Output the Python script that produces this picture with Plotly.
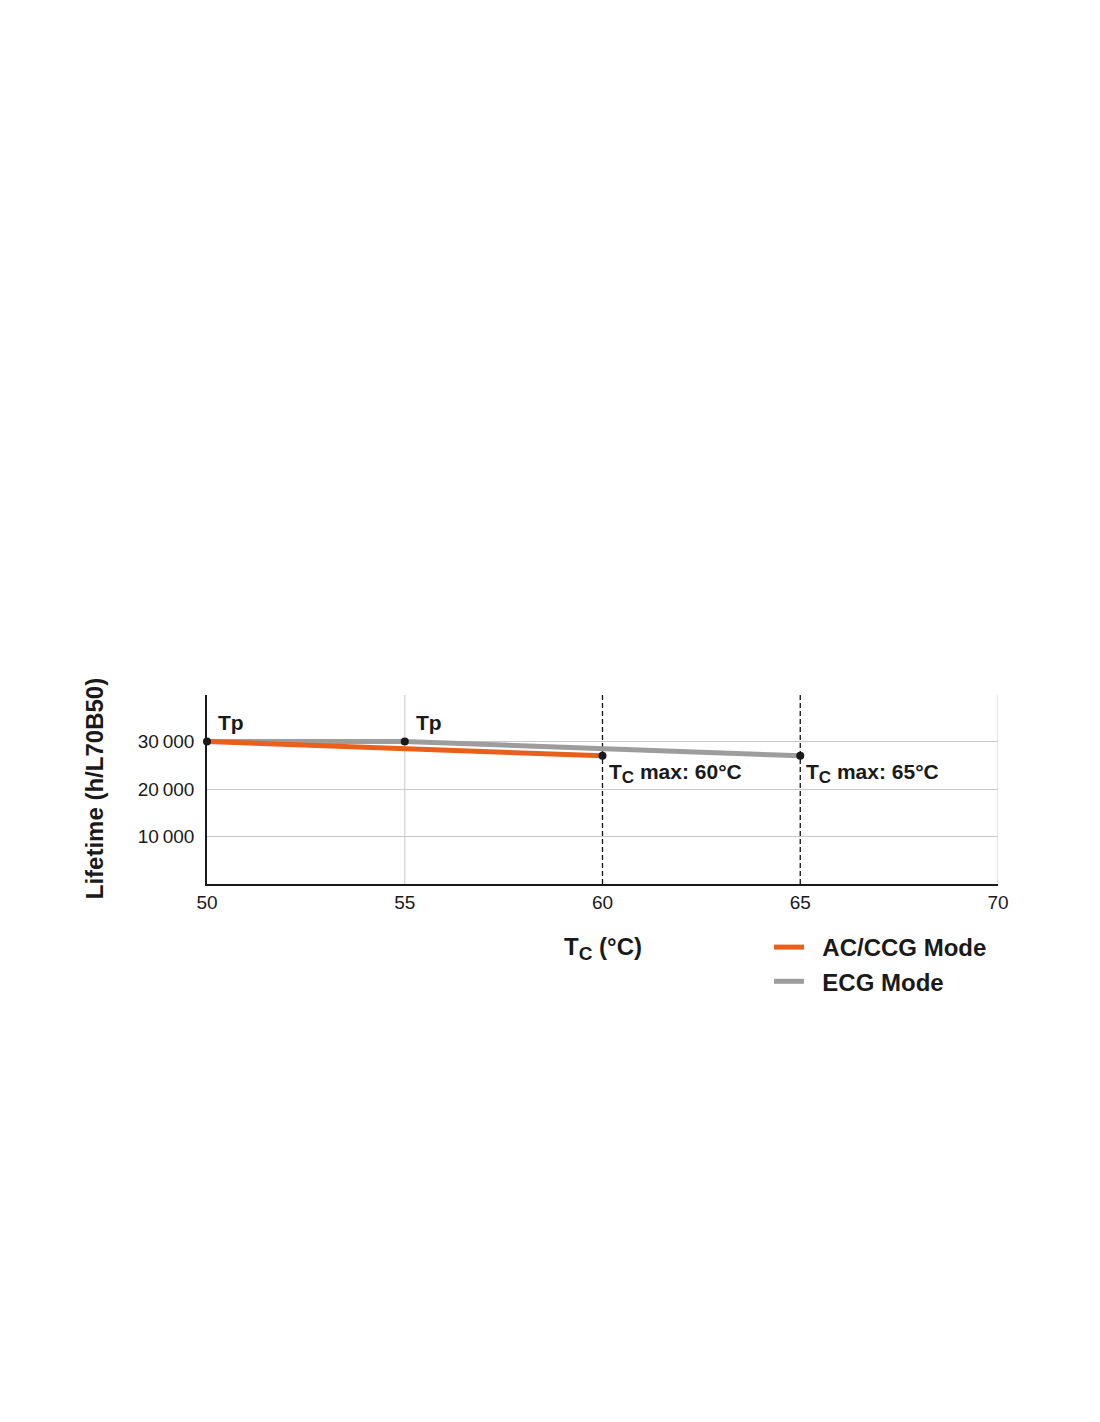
import plotly.graph_objects as go

# Data
ac_x = [50, 60]
ac_y = [30000, 27000]
ecg_x = [50, 55, 65]
ecg_y = [30000, 30000, 27000]
pts_x = [50, 55, 60, 65]
pts_y = [30000, 30000, 27000, 27000]
x_ticks = [50, 55, 60, 65, 70]
y_ticks = [10000, 20000, 30000]
y_ticktext = ["10\u2009000", "20\u2009000", "30\u2009000"]
x_grid = [55, 70]
tc_max = [60, 65]
tp_x = [50, 55]
tp_y = [30000, 30000]

FONT = "Liberation Sans, Arial, sans-serif"
ORANGE = "#E8601C"
GRAY = "#9d9d9d"
INK = "#1a1a1a"

fig = go.Figure()
fig.add_trace(go.Scatter(x=ecg_x, y=ecg_y, mode="lines", name="\u00a0\u00a0ECG Mode",
                         line=dict(color=GRAY, width=5), legendrank=2))
fig.add_trace(go.Scatter(x=ac_x, y=ac_y, mode="lines", name="\u00a0\u00a0AC/CCG Mode",
                         line=dict(color=ORANGE, width=5), legendrank=1))
fig.add_trace(go.Scatter(x=pts_x, y=pts_y, mode="markers", showlegend=False,
                         cliponaxis=False, marker=dict(color=INK, size=8)))

for v in x_grid:
    fig.add_shape(type="line", xref="x", yref="paper", x0=v, x1=v, y0=0, y1=1,
                  line=dict(color="#c8c8c8", width=1), layer="below")
for v in tc_max:
    fig.add_shape(type="line", xref="x", yref="paper", x0=v, x1=v, y0=0, y1=1,
                  line=dict(color="#111", width=1.3, dash="5px,3px"), layer="between")

ann = []
for xv, yv in zip(tp_x, tp_y):
    ann.append(dict(x=xv, y=yv, xref="x", yref="y", text="<b>Tp</b>",
                    showarrow=False, xanchor="left", yanchor="bottom", xshift=9, yshift=6,
                    font=dict(size=21, color=INK, family=FONT)))
for xv, yv in zip(tc_max, [27000, 27000]):
    ann.append(dict(x=xv, y=yv, xref="x", yref="y",
                    text="<b>T<sub><span style='font-size:17px'>C</span></sub> max: %d°C</b>" % xv,
                    showarrow=False, xanchor="left", yanchor="top", xshift=4, yshift=-2,
                    font=dict(size=21, color=INK, family=FONT)))
ann.append(dict(x=-0.142, y=0.505, xref="paper", yref="paper", text="<b>Lifetime (h/L70B50)</b>",
                textangle=-90, showarrow=False, xanchor="center", yanchor="middle",
                font=dict(size=24, color=INK, family=FONT)))
ann.append(dict(x=(603 - 207) / 791, y=(884 - 948) / 189, xref="paper", yref="paper",
                text="<b>T<sub><span style='font-size:19px'>C</span></sub> (°C)</b>",
                showarrow=False, xanchor="center", yanchor="middle",
                font=dict(size=24, color=INK, family=FONT)))

fig.update_layout(
    width=1100, height=1422,
    margin=dict(l=199, r=110, t=687, b=546),
    paper_bgcolor="white", plot_bgcolor="white",
    font=dict(family=FONT, color=INK),
    annotations=ann,
    showlegend=True,
    legend=dict(x=(769 - 207) / 791, y=(884 - 925) / 189, xanchor="left", yanchor="top",
                font=dict(size=24, color=INK, family=FONT, weight="bold"), itemwidth=30,
                bgcolor="rgba(0,0,0,0)", traceorder="normal"),
    xaxis=dict(range=[50, 70], tickvals=x_ticks, ticktext=[str(v) for v in x_ticks],
               showgrid=False,
               showline=True, linecolor=INK, linewidth=1.5,
               ticks="", tickfont=dict(size=19, color=INK), zeroline=False),
    yaxis=dict(range=[0, 39800], tickvals=y_ticks, ticktext=y_ticktext,
               showgrid=True, gridcolor="#c8c8c8", gridwidth=1,
               showline=True, linecolor=INK, linewidth=1.5,
               ticks="", ticklabelstandoff=7, tickfont=dict(size=19, color=INK), zeroline=False),
)

fig.write_html("out.html")
